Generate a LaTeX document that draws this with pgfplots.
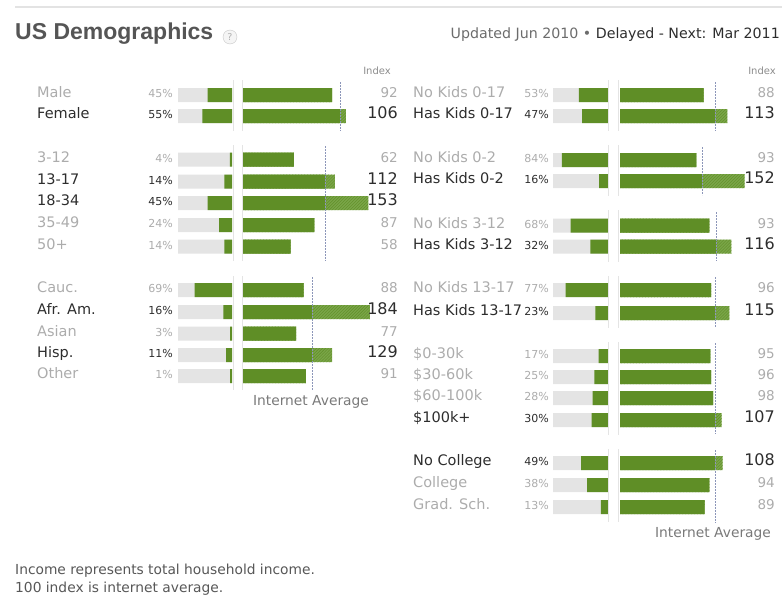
\documentclass[border=0pt]{standalone}
\usepackage{pgfplots}
\pgfplotsset{compat=1.18}
\usepackage{pgfplotstable}
\usepackage{fontspec}
\setmainfont{DejaVu Sans}
\newfontfamily\lib{Liberation Sans}
\usetikzlibrary{patterns}
\definecolor{qgreen}{RGB}{95,142,38}
\definecolor{qgreenl}{RGB}{122,165,72}
\definecolor{qgray}{RGB}{228,228,228}
\definecolor{dtxt}{RGB}{45,45,45}
\definecolor{ltxt}{RGB}{172,172,172}
\definecolor{titlec}{RGB}{85,85,85}
\definecolor{avgc}{RGB}{140,150,185}
\definecolor{edgec}{RGB}{228,228,228}

% left panel: y (pixel row), share %, index, scale (px per index point)
\pgfplotstableread{
y pct idx sc
95 45 92 0.97
116 55 106 0.97
159.5 4 62 0.82
181.5 14 112 0.82
203 45 153 0.82
225 24 87 0.82
246.5 14 58 0.82
290 69 88 0.69
312 16 184 0.69
333.5 3 77 0.69
355 11 129 0.69
376 1 91 0.69
}\leftdata

% right panel
\pgfplotstableread{
y pct idx sc
95 53 88 0.95
116 47 113 0.95
160 84 93 0.82
181 16 152 0.82
225.5 68 93 0.96
246.5 32 116 0.96
290 77 96 0.95
313 23 115 0.95
356 17 95 0.95
377 25 96 0.95
398 28 98 0.95
420 30 107 0.95
463 49 108 0.95
485 38 94 0.95
507 13 89 0.95
}\rightdata

\pgfplotsset{
  barax/.style={hide axis, scale only axis, height=599bp, ymin=0, ymax=599,
    y dir=reverse, clip=false, anchor=north west},
  bb/.style={xbar, bar shift=0pt, bar width=14, draw=none},
  avg/.style={color=avgc, line width=1bp, dash pattern=on 1.5bp off 1.5bp, mark=none},
}

\begin{document}
\begin{tikzpicture}
\path[use as bounding box] (0,0) rectangle (782bp,-599bp);

% ---------- left share bars ----------
\begin{axis}[barax, at={(178bp,0bp)}, width=54bp, xmin=0, xmax=100, x dir=reverse]
\addplot[bb, fill=qgray] table[x expr=100, y=y]{\leftdata};
\addplot[bb, fill=qgreen] table[x expr={max(\thisrow{pct},3.5)}, y=y]{\leftdata};
\end{axis}
% ---------- left index bars ----------
\begin{axis}[barax, at={(243bp,0bp)}, width=200bp, xmin=0, xmax=200]
\addplot[bb, fill=qgreenl] table[x expr=\thisrow{idx}*\thisrow{sc}, y=y]{\leftdata};
\addplot[bb, pattern=north east lines, pattern color=qgreen] table[x expr=\thisrow{idx}*\thisrow{sc}, y=y]{\leftdata};
\addplot[bb, fill=qgreen] table[x expr={min(\thisrow{idx},100)*\thisrow{sc}}, y=y]{\leftdata};
\addplot[avg] coordinates {(97,82) (97,131)};
\addplot[avg] coordinates {(82,146) (82,261)};
\addplot[avg] coordinates {(69,277) (69,390)};
\end{axis}

% ---------- right share bars ----------
\begin{axis}[barax, at={(553bp,0bp)}, width=55bp, xmin=0, xmax=100, x dir=reverse]
\addplot[bb, fill=qgray] table[x expr=100, y=y]{\rightdata};
\addplot[bb, fill=qgreen] table[x expr={max(\thisrow{pct},3.5)}, y=y]{\rightdata};
\end{axis}
% ---------- right index bars ----------
\begin{axis}[barax, at={(620bp,0bp)}, width=200bp, xmin=0, xmax=200]
\addplot[bb, fill=qgreenl] table[x expr=\thisrow{idx}*\thisrow{sc}, y=y]{\rightdata};
\addplot[bb, pattern=north east lines, pattern color=qgreen] table[x expr=\thisrow{idx}*\thisrow{sc}, y=y]{\rightdata};
\addplot[bb, fill=qgreen] table[x expr={min(\thisrow{idx},100)*\thisrow{sc}}, y=y]{\rightdata};
\addplot[avg] coordinates {(95,82) (95,131)};
\addplot[avg] coordinates {(82,147) (82,195)};
\addplot[avg] coordinates {(96,212) (96,261)};
\addplot[avg] coordinates {(95,277) (95,327)};
\addplot[avg] coordinates {(95,343) (95,434)};
\addplot[avg] coordinates {(95,450) (95,523)};
\end{axis}

\begin{scope}[x=1bp, y=-1bp]
% top rule
\draw[gray!22, line width=2bp] (15,7) -- (782,7);
% title
\node[anchor=mid west, text=titlec, inner sep=0pt,
  font=\lib\bfseries\fontsize{23bp}{25bp}\selectfont] at (15,37) {US Demographics};
\node[circle, draw=gray!45, fill=gray!8, text=gray!60, inner sep=0.6pt,
  minimum size=14bp, font=\fontsize{9.5bp}{9.5bp}\selectfont] at (230,37) {?};
\node[anchor=mid east, inner sep=0pt, font=\fontsize{14.2bp}{16bp}\selectfont] at (780,36)
  {\textcolor{gray!85!black}{Updated Jun 2010 \textbullet{}} \textcolor{dtxt}{Delayed - Next: Mar 2011}};

% column headers
\node[anchor=mid east, inner sep=0pt, text=gray!90, font=\fontsize{10bp}{11bp}\selectfont] at (391,72) {Index};
\node[anchor=mid east, inner sep=0pt, text=gray!90, font=\fontsize{10bp}{11bp}\selectfont] at (776,72) {Index};

% edge lines around the gap between share and index bars
\foreach \a/\b in {80/131, 145/261, 276/390}{
  \draw[edgec, line width=0.8bp] (233,\a) -- (233,\b);
  \draw[edgec, line width=0.8bp] (242,\a) -- (242,\b);
}
\foreach \a/\b in {80/131, 145/196, 210/262, 276/328, 342/435, 449/522}{
  \draw[edgec, line width=0.8bp] (608.5,\a) -- (608.5,\b);
  \draw[edgec, line width=0.8bp] (618,\a) -- (618,\b);
}

% left rows
\foreach \y/\lab/\p/\i/\h in {95/Male/45/92/0, 116/Female/55/106/1,
  159.5/3-12/4/62/0, 181.5/13-17/14/112/1, 203/18-34/45/153/1, 225/35-49/24/87/0, 246.5/50+/14/58/0,
  290/Cauc./69/88/0, 312/Afr. Am./16/184/1, 333.5/Asian/3/77/0, 355/Hisp./11/129/1, 376/Other/1/91/0}{
  \ifnum\h=1 \colorlet{tc}{dtxt}\def\isz{16}\else \colorlet{tc}{ltxt}\def\isz{13.5}\fi
  \node[anchor=mid west, inner sep=0pt, text=tc, font=\fontsize{14.5bp}{16bp}\selectfont] at (37,\y) {\lab};
  \node[anchor=mid east, inner sep=0pt, text=tc, font=\fontsize{11bp}{12bp}\selectfont] at (173,\y) {\p\%};
  \node[anchor=mid east, inner sep=0pt, text=tc, font=\fontsize{\isz bp}{\isz bp}\selectfont] at (398,\y) {\i};
}
% right rows
\foreach \y/\lab/\p/\i/\h in {95/No Kids 0-17/53/88/0, 116/Has Kids 0-17/47/113/1,
  160/No Kids 0-2/84/93/0, 181/Has Kids 0-2/16/152/1,
  225.5/No Kids 3-12/68/93/0, 246.5/Has Kids 3-12/32/116/1,
  290/No Kids 13-17/77/96/0, 313/Has Kids 13-17/23/115/1,
  356/\$0-30k/17/95/0, 377/\$30-60k/25/96/0, 398/\$60-100k/28/98/0, 420/\$100k+/30/107/1,
  463/No College/49/108/1, 485/College/38/94/0, 507/Grad. Sch./13/89/0}{
  \ifnum\h=1 \colorlet{tc}{dtxt}\def\isz{16}\else \colorlet{tc}{ltxt}\def\isz{13.5}\fi
  \node[anchor=mid west, inner sep=0pt, text=tc, font=\fontsize{14.5bp}{16bp}\selectfont] at (413,\y) {\lab};
  \node[anchor=mid east, inner sep=0pt, text=tc, font=\fontsize{11bp}{12bp}\selectfont] at (549,\y) {\p\%};
  \node[anchor=mid east, inner sep=0pt, text=tc, font=\fontsize{\isz bp}{\isz bp}\selectfont] at (775,\y) {\i};
}

% internet average captions
\node[inner sep=0pt, text=gray!95!black, font=\fontsize{13.8bp}{15bp}\selectfont] at (311,402) {Internet Average};
\node[inner sep=0pt, text=gray!95!black, font=\fontsize{13.8bp}{15bp}\selectfont] at (713,534) {Internet Average};

% footnotes
\node[anchor=mid west, inner sep=0pt, text=dtxt!80, font=\fontsize{13.8bp}{15bp}\selectfont] at (15,572) {Income represents total household income.};
\node[anchor=mid west, inner sep=0pt, text=dtxt!80, font=\fontsize{13.8bp}{15bp}\selectfont] at (15,590) {100 index is internet average.};
\end{scope}
\end{tikzpicture}
\end{document}
